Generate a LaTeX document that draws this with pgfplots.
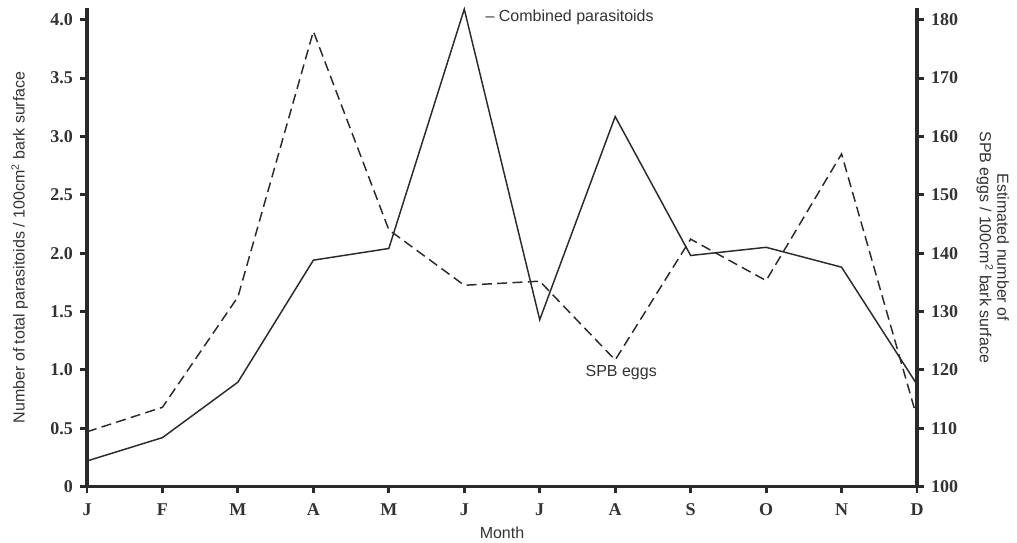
\documentclass[border=0pt]{standalone}
\usepackage{pgfplots}
\pgfplotsset{compat=1.18}
\usepackage{fontspec}
\setmainfont{Liberation Sans}
\newfontfamily\tickfont{Liberation Serif}
\usetikzlibrary{calc}
\definecolor{ink}{HTML}{2A2A2A}
\definecolor{txt}{HTML}{333333}
\begin{document}
\begin{tikzpicture}
\pgfplotsset{
  common/.style={
    width=622.5pt, height=359pt, scale only axis,
    xmin=0, xmax=11,
    axis line style={ink, line width=2.6pt},
    tick style={ink, line width=2.2pt},
    major tick length=5pt,
    tick align=outside,
    /pgf/number format/assume math mode=true,
    ticklabel style={font=\tickfont\bfseries\fontsize{13.5}{15}\selectfont, text=txt},
    label style={font=\fontsize{12}{14}\selectfont, text=txt},
    clip=false,
  }
}
\begin{axis}[common, name=ax,
  axis x line*=bottom, axis y line*=left,
  ymin=0, ymax=4.1,
  xtick={0,...,11},
  xticklabels={J,F,M,A,M,J,J,A,S,O,N,D},
  xticklabel style={yshift=-4pt},
  yticklabel style={xshift=-2pt},
  ytick={0,0.5,1,1.5,2,2.5,3,3.5,4},
  yticklabels={0,0.5,1.0,1.5,2.0,2.5,3.0,3.5,4.0},
  xlabel={Month},
  xlabel style={yshift=-2pt},
  ylabel={Number of total parasitoids / 100cm\textsuperscript{2} bark surface},
  ylabel style={yshift=10pt},
]
\addplot[ink, line width=1.1pt] coordinates {
  (0,0.22) (1,0.42) (2,0.895) (3,1.94) (4,2.04) (5,4.09)
  (6,1.43) (7,3.17) (8,1.98) (9,2.05) (10,1.88) (11,0.875)
};
\node[anchor=west, font=\fontsize{12}{14}\selectfont, text=txt] at (axis cs:5.22,4.02) {– Combined parasitoids};
\node[font=\fontsize{12}{14}\selectfont, text=txt] at (axis cs:7.08,0.98) {SPB eggs};
\end{axis}
\begin{axis}[common,
  axis x line=none, axis y line*=right,
  ymin=100, ymax=182,
  ytick={100,110,...,180},
  yticklabel style={xshift=2pt},
  ylabel={\shortstack{Estimated number of\\SPB eggs / 100cm\textsuperscript{2} bark surface}},
  ylabel style={rotate=180, yshift=7pt},
]
\addplot[ink, line width=1.1pt, dash pattern=on 7.5pt off 4pt] coordinates {
  (0,109.4) (1,113.6) (2,132.5) (3,178) (4,144) (5,134.5)
  (6,135.2) (7,121.7) (8,142.4) (9,135.3) (10,157) (11,111.8)
};
\end{axis}
\pgfresetboundingbox
\path ($(ax.south west)+(-65.25pt,-42pt)$) rectangle ($(ax.north east)+(75pt,6pt)$);
\end{tikzpicture}
\end{document}
